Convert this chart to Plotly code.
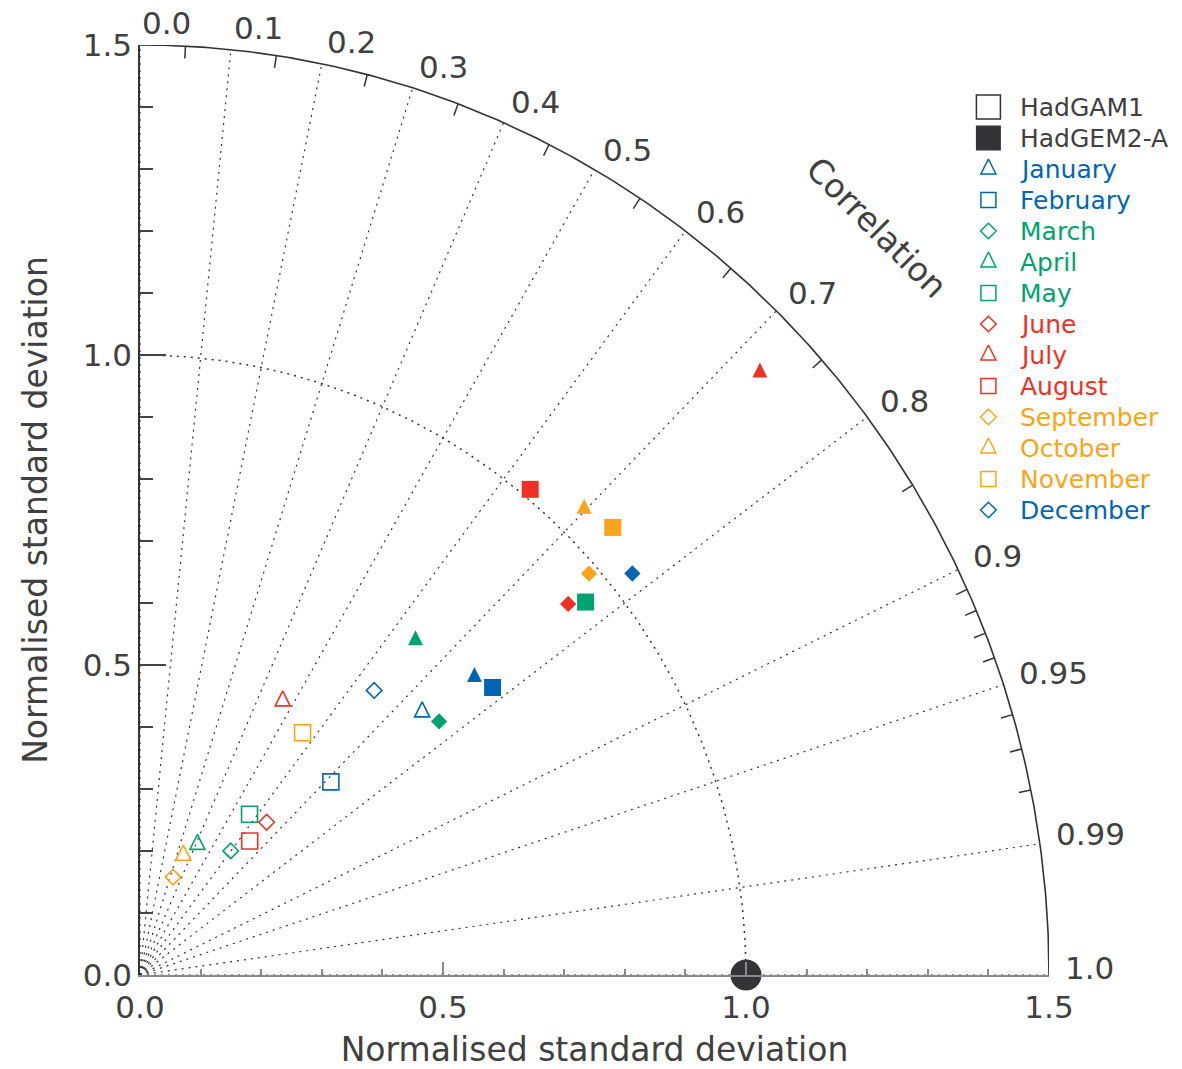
import numpy as np
import plotly.graph_objects as go

# ---------------- data ----------------
months = ["January", "February", "March", "April", "May", "June",
          "July", "August", "September", "October", "November", "December"]
month_shapes = ["triangle", "square", "diamond"] * 4
BLUE, GREEN, RED, ORANGE = "#0066b3", "#00a36f", "#ee3124", "#f8a51b"
month_colors = [BLUE, BLUE, GREEN, GREEN, GREEN, RED, RED, RED,
                ORANGE, ORANGE, ORANGE, BLUE]

# HadGAM1 (open symbols): normalised std and correlation
hadgam1_std = [0.630, 0.443, 0.250, 0.231, 0.316, 0.323, 0.501, 0.282, 0.167, 0.206, 0.474, 0.600]
hadgam1_corr = [0.739, 0.711, 0.599, 0.410, 0.572, 0.647, 0.470, 0.642, 0.326, 0.347, 0.566, 0.644]
# HadGEM2-A (filled symbols)
hadgem2_std = [0.732, 0.744, 0.641, 0.706, 0.950, 0.926, 1.411, 1.014, 0.984, 1.050, 1.063, 1.039]
hadgem2_corr = [0.754, 0.782, 0.770, 0.644, 0.774, 0.763, 0.725, 0.635, 0.753, 0.698, 0.734, 0.782]

ref_std = 1.0
corr_labels = [0.0, 0.1, 0.2, 0.3, 0.4, 0.5, 0.6, 0.7, 0.8, 0.9, 0.95, 0.99, 1.0]
corr_minor = [0.05, 0.15, 0.25, 0.35, 0.45, 0.55, 0.65, 0.75, 0.85,
              0.91, 0.92, 0.93, 0.94, 0.96, 0.97, 0.98]
std_ticks = [0.0, 0.5, 1.0, 1.5]
legend_names = ["HadGAM1", "HadGEM2-A"] + months

# ---------------- layout constants ----------------
W, H = 1182, 1069
ML, MR, MT, MB = 140, 133, 45, 94
RMAX = 1.5
PX_PER_Y = (H - MT - MB) / RMAX
TXT = "#404040"
DARK = "#333338"
FONT = "DejaVu Sans"


def to_xy(std, corr):
    std = np.asarray(std, float)
    corr = np.asarray(corr, float)
    return std * corr, std * np.sqrt(1 - corr ** 2)


SYM = {"triangle": "arrow-up", "square": "square", "diamond": "diamond"}
SIZE_FILLED = {"triangle": 15, "square": 17, "diamond": 12.5}
SIZE_OPEN = {"triangle": 15, "square": 16, "diamond": 12}


def centroid_shift(shape, size):
    # arrow-up symbol has its apex at the anchor; shift so centroid sits on the value
    return (2.0 / 3.0 * size) / PX_PER_Y if shape == "triangle" else 0.0


fig = go.Figure()

# radial correlation lines (dotted)
rx, ry = [], []
for c in corr_labels:
    s = np.sqrt(1 - c ** 2)
    rx += [0, RMAX * c, None]
    ry += [0, RMAX * s, None]
fig.add_trace(go.Scatter(x=rx, y=ry, mode="lines", hoverinfo="skip",
                         line=dict(color="#333", width=1.2, dash="2px,5px")))

# reference std arc (dotted)
th = np.linspace(0, np.pi / 2, 300)
fig.add_trace(go.Scatter(x=ref_std * np.cos(th), y=ref_std * np.sin(th), mode="lines",
                         hoverinfo="skip", line=dict(color="#333", width=1.5, dash="2px,5px")))

# outer arc
fig.add_trace(go.Scatter(x=RMAX * np.cos(th), y=RMAX * np.sin(th), mode="lines",
                         hoverinfo="skip", line=dict(color="#333", width=1.6), cliponaxis=False))

# minor ticks on outer arc
tx, ty = [], []
for c in corr_minor:
    s = np.sqrt(1 - c ** 2)
    tx += [1.48 * c, RMAX * c, None]
    ty += [1.48 * s, RMAX * s, None]
fig.add_trace(go.Scatter(x=tx, y=ty, mode="lines", hoverinfo="skip",
                         line=dict(color="#333", width=1.5), cliponaxis=False))

# reference point
fig.add_trace(go.Scatter(x=[ref_std], y=[0], mode="markers", cliponaxis=False,
                         marker=dict(symbol="circle", size=31, color=DARK)))

# model points
gx, gy = to_xy(hadgam1_std, hadgam1_corr)
ex, ey = to_xy(hadgem2_std, hadgem2_corr)
for i in range(12):
    shp, col = month_shapes[i], month_colors[i]
    so = SIZE_OPEN[shp]
    fig.add_trace(go.Scatter(
        x=[gx[i]], y=[gy[i] + centroid_shift(shp, so)], mode="markers", cliponaxis=False,
        name=months[i] + " HadGAM1",
        marker=dict(symbol=SYM[shp] + "-open", size=so, color=col, line=dict(width=1.6, color=col))))
    sf = SIZE_FILLED[shp]
    fig.add_trace(go.Scatter(
        x=[ex[i]], y=[ey[i] + centroid_shift(shp, sf)], mode="markers", cliponaxis=False,
        name=months[i] + " HadGEM2-A",
        marker=dict(symbol=SYM[shp], size=sf, color=col, line=dict(width=0))))

annotations = []
# correlation labels (paper coords, since some sit outside the axis range)
for c in corr_labels:
    s = np.sqrt(1 - c ** 2)
    lab = f"{c:.2f}" if c in (0.95, 0.99) else f"{c:.1f}"
    annotations.append(dict(x=1.523 * c / RMAX, y=(1.523 * s + 0.012) / RMAX,
                            xref="paper", yref="paper", text=lab, showarrow=False,
                            xanchor="left", yanchor="middle", font=dict(size=31, color=TXT)))
annotations.append(dict(x=1.216, y=1.206, text="Correlation", showarrow=False, textangle=45,
                        xanchor="center", yanchor="middle", font=dict(size=33, color=TXT)))

# legend (drawn manually)
LEG_X, LEG_Y0, LEG_DY, LEG_TX = 1.40, 1.40, 0.05, 0.049
for k, name in enumerate(legend_names):
    ly = LEG_Y0 - k * LEG_DY
    if k == 0:
        sym, size, col, tcol, lw = "square-open", 24, "#333", TXT, 1.5
        shift = 0
    elif k == 1:
        sym, size, col, tcol, lw = "square", 25, DARK, TXT, 0
        shift = 0
    else:
        shp = month_shapes[k - 2]
        col = month_colors[k - 2]
        tcol = col
        size = {"triangle": 15, "square": 15, "diamond": 12}[shp]
        sym = SYM[shp] + "-open"
        lw = 1.5
        shift = centroid_shift(shp, size)
    fig.add_trace(go.Scatter(x=[LEG_X], y=[ly + shift], mode="markers", cliponaxis=False,
                             marker=dict(symbol=sym, size=size, color=col, line=dict(width=lw, color=col))))
    annotations.append(dict(x=LEG_X + LEG_TX, y=ly, text=name, showarrow=False,
                            xanchor="left", yanchor="middle", font=dict(size=25, color=tcol)))

axis_common = dict(range=[0, RMAX], showgrid=False, zeroline=False, showline=True,
                   ticks="inside", tickvals=std_ticks, tickformat=".1f", automargin=False,
                   tickfont=dict(size=31, color=TXT))

fig.update_layout(
    template="none",
    width=W, height=H,
    margin=dict(l=ML, r=MR, t=MT, b=MB, pad=0),
    plot_bgcolor="white", paper_bgcolor="white",
    showlegend=False,
    font=dict(family=FONT, color=TXT),
    annotations=annotations,
    xaxis=dict(**axis_common, linecolor="#8a8a8a", linewidth=2, ticklen=13, tickwidth=1.5,
               tickcolor="#8a8a8a", ticklabelstandoff=4,
               minor=dict(dtick=0.1, tick0=0, ticks="inside", ticklen=6, tickwidth=1.5,
                          tickcolor="#8a8a8a"),
               title=dict(text="Normalised standard deviation", font=dict(size=33, color=TXT),
                          standoff=20)),
    yaxis=dict(**axis_common, linecolor="#333", linewidth=1.6, ticklen=26, tickwidth=1.5,
               tickcolor="#444",
               minor=dict(dtick=0.1, tick0=0, ticks="inside", ticklen=13, tickwidth=1.5,
                          tickcolor="#444"),
               title=dict(text="Normalised standard deviation", font=dict(size=33, color=TXT),
                          standoff=25)),
)

fig.write_html("out.html")
